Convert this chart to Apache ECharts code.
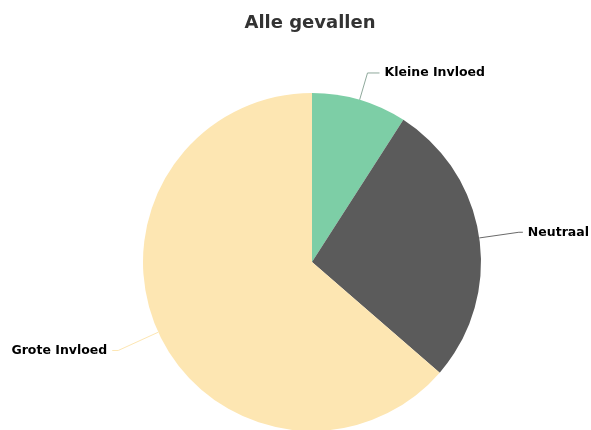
<!DOCTYPE html>
<html>
<head>
<meta charset="utf-8">
<script src="https://cdn.jsdelivr.net/npm/echarts@6/dist/echarts.min.js"></script>
<style>
  html, body { margin: 0; padding: 0; background: #ffffff; }
  #chart { width: 591px; height: 430px; }
</style>
</head>
<body>
<div id="chart"></div>
<script>
// Aantal gevallen per categorie
const categories = ['Kleine Invloed', 'Neutraal', 'Grote Invloed'];
const counts = [3, 9, 21];
const colors = ['#7dcea6', '#5b5b5b', '#fde6b2'];
const lineColors = ['#8fa99c', '#6a6a6a', '#fde6b2'];
const lineLengths = [[28, 12], [40, 4], [44, 6]];

const chart = echarts.init(document.getElementById('chart'), null, { renderer: 'canvas' });

const data = categories.map((name, i) => ({
  name: name,
  value: counts[i],
  itemStyle: { color: colors[i] },
  labelLine: {
    length: lineLengths[i][0],
    length2: lineLengths[i][1],
    lineStyle: { color: lineColors[i], width: 1 }
  }
}));

chart.setOption({
  backgroundColor: '#ffffff',
  animation: false,
  title: {
    text: 'Alle gevallen',
    left: 305,
    textAlign: 'center',
    top: 9,
    textStyle: {
      fontFamily: 'DejaVu Sans',
      fontWeight: 'bold',
      fontSize: 18,
      color: '#333333'
    }
  },
  series: [{
    type: 'pie',
    center: [312, 262],
    radius: 169,
    startAngle: 90,
    clockwise: true,
    avoidLabelOverlap: false,
    itemStyle: { borderWidth: 0 },
    label: {
      show: true,
      position: 'outside',
      alignTo: 'none',
      formatter: '{b}',
      fontFamily: 'DejaVu Sans',
      fontWeight: 'bold',
      fontSize: 12.5,
      color: '#000000'
    },
    labelLine: { show: true, smooth: false },
    emphasis: { disabled: true },
    data: data
  }]
});
</script>
</body>
</html>
